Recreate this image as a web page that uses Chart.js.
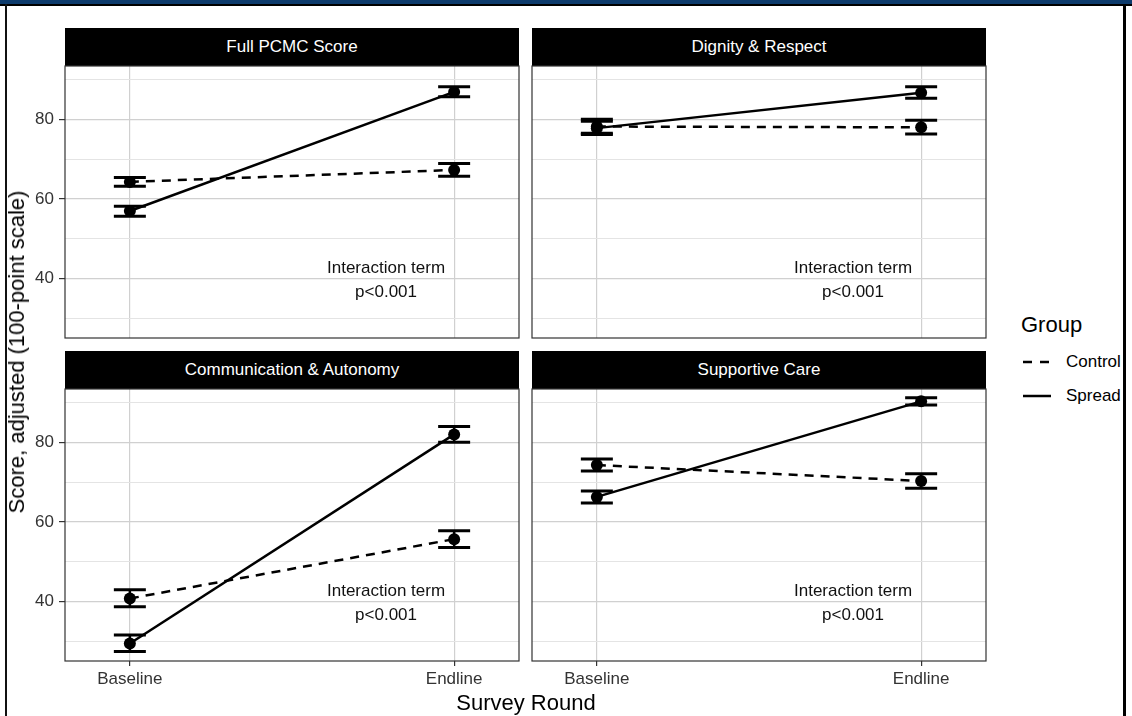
<!DOCTYPE html>
<html>
<head>
<meta charset="utf-8">
<script src="https://cdn.jsdelivr.net/npm/chart.js@4.4.1/dist/chart.umd.min.js"></script>
<style>
  body { margin: 0; background: #fff; font-family: "Liberation Sans", Arial, sans-serif; }
  #page { position: relative; width: 1132px; height: 716px; overflow: hidden; background: #fff; }
  .abs { position: absolute; }
  .strip { position: absolute; background: #000; color: #fff; font-size: 17px; text-align: center; line-height: 38px; height: 38px; }
  canvas { position: absolute; }
</style>
</head>
<body>
<div id="page">
  <div class="abs" style="left:0;top:0;width:1132px;height:4px;background:#0d3b6c"></div>
  <div class="abs" style="left:0;top:4px;width:1132px;height:2px;background:#000"></div>
  <div class="abs" style="left:5px;top:4px;width:2px;height:712px;background:#111"></div>
  <div class="abs" style="left:1123px;top:4px;width:3px;height:712px;background:#000"></div>
</div>
<script>
// === 資料 ===
const panels = ["Full PCMC Score", "Dignity & Respect", "Communication & Autonomy", "Supportive Care"];
const rounds = ["Baseline", "Endline"];
const groups = ["Control", "Spread"];

const controlMean = [[64.3, 67.3], [78.2, 78.0], [40.8, 55.7], [74.3, 70.3]];
const controlLow  = [[63.2, 65.7], [76.5, 76.3], [38.7, 53.6], [72.8, 68.5]];
const controlHigh = [[65.4, 68.9], [80.0, 79.8], [43.0, 57.8], [75.8, 72.1]];

const spreadMean = [[57.0, 86.9], [77.8, 86.7], [29.5, 82.0], [66.3, 90.3]];
const spreadLow  = [[55.7, 85.7], [76.2, 85.3], [27.5, 80.0], [64.8, 89.4]];
const spreadHigh = [[58.2, 88.2], [79.5, 88.2], [31.6, 84.0], [67.8, 91.2]];

const yTicks = [30, 40, 50, 60, 70, 80, 90];
const noteLines = ["Interaction term", "p<0.001"];
const yTitle = "Score, adjusted (100-point scale)";
const xTitle = "Survey Round";
const legendTitle = "Group";

// === 版面 ===
const FONT = '"Liberation Sans", Arial, sans-serif';
const plotLeft = [65, 532, 65, 532];
const plotTop = [66, 66, 389, 389];
const W = 454, H = 272, AXW = 65, PAD = 2;
const yMin = 25.1, yMax = 93.4;
const page = document.getElementById("page");

function pts(vals) {
  return vals.map((v, i) => ({ x: i, y: v }));
}
function errPts(lo, hi) {
  const out = [];
  lo.forEach((l, i) => {
    if (i > 0) out.push({ x: i - 0.5, y: null });
    out.push({ x: i, y: l }, { x: i, y: hi[i] });
  });
  return out;
}
function noPad(s) {
  s.paddingTop = 0;
  s.paddingBottom = 0;
  s.paddingLeft = 0;
  s.paddingRight = 0;
}

const panelDecor = {
  id: "panelDecor",
  beforeDatasetsDraw(chart) {
    const { ctx, scales } = chart;
    const x = scales.x.getPixelForValue(0.79);
    const y = scales.y.getPixelForValue(39.6);
    ctx.save();
    ctx.font = "17px " + FONT;
    ctx.fillStyle = "#111";
    ctx.textAlign = "center";
    ctx.textBaseline = "middle";
    ctx.fillText(noteLines[0], x, y - 11.7);
    ctx.fillText(noteLines[1], x, y + 11.7);
    ctx.restore();
  },
  afterDatasetsDraw(chart) {
    const { ctx, chartArea: a } = chart;
    ctx.save();
    ctx.strokeStyle = "#333";
    ctx.lineWidth = 1.2;
    ctx.strokeRect(a.left, a.top, a.right - a.left, a.bottom - a.top);
    ctx.restore();
  },
};

function makePanel(p) {
  const isLeft = p % 2 === 0;
  const isBottom = p >= 2;

  const strip = document.createElement("div");
  strip.className = "strip";
  strip.style.left = plotLeft[p] + "px";
  strip.style.top = plotTop[p] - 38 + "px";
  strip.style.width = W + "px";
  strip.textContent = panels[p];
  page.appendChild(strip);

  const cv = document.createElement("canvas");
  const cw = AXW + W + PAD;
  const ch = PAD + H + (isBottom ? 40 : PAD);
  cv.width = cw;
  cv.height = ch;
  cv.style.left = plotLeft[p] - AXW + "px";
  cv.style.top = plotTop[p] - PAD + "px";
  cv.style.width = cw + "px";
  cv.style.height = ch + "px";
  page.appendChild(cv);

  const isMajor = (v) => v % 20 === 0;

  new Chart(cv.getContext("2d"), {
    type: "line",
    data: {
      datasets: [
        {
          label: groups[0],
          data: pts(controlMean[p]),
          borderColor: "#000",
          borderWidth: 2.5,
          borderDash: [9, 7],
          pointRadius: 6,
          pointBorderWidth: 0,
          pointBackgroundColor: "#000",
        },
        {
          label: groups[1],
          data: pts(spreadMean[p]),
          borderColor: "#000",
          borderWidth: 2.5,
          pointRadius: 6,
          pointBorderWidth: 0,
          pointBackgroundColor: "#000",
        },
        {
          label: groups[0] + " CI",
          data: errPts(controlLow[p], controlHigh[p]),
          borderColor: "#000",
          borderWidth: 2.5,
          spanGaps: false,
          pointStyle: "line",
          pointRadius: 16,
          pointBorderWidth: 3,
          pointBorderColor: "#000",
        },
        {
          label: groups[1] + " CI",
          data: errPts(spreadLow[p], spreadHigh[p]),
          borderColor: "#000",
          borderWidth: 2.5,
          spanGaps: false,
          pointStyle: "line",
          pointRadius: 16,
          pointBorderWidth: 3,
          pointBorderColor: "#000",
        },
      ],
    },
    options: {
      responsive: false,
      animation: false,
      events: [],
      layout: { autoPadding: false, padding: { top: PAD, right: PAD, left: 0, bottom: 0 } },
      plugins: { legend: { display: false }, tooltip: { enabled: false } },
      scales: {
        x: {
          type: "linear",
          min: -0.2,
          max: 1.2,
          afterBuildTicks: (s) => { s.ticks = rounds.map((r, i) => ({ value: i })); },
          afterFit: (s) => { s.height = isBottom ? 40 : PAD; noPad(s); },
          border: { display: false },
          grid: {
            color: "#d0d0d0",
            lineWidth: 1.2,
            drawTicks: isBottom,
            tickLength: 5,
            tickColor: "#333",
          },
          ticks: {
            display: isBottom,
            maxRotation: 0,
            autoSkip: false,
            padding: 3,
            color: "#333",
            font: { family: FONT, size: 17 },
            callback: (v) => rounds[Math.round(v)],
          },
        },
        y: {
          type: "linear",
          min: yMin,
          max: yMax,
          afterBuildTicks: (s) => { s.ticks = yTicks.map((v) => ({ value: v })); },
          afterFit: (s) => { s.width = AXW; noPad(s); },
          border: { display: false },
          grid: {
            color: (c) => (c.tick && isMajor(c.tick.value) ? "#d0d0d0" : "#e4e4e4"),
            lineWidth: (c) => (c.tick && isMajor(c.tick.value) ? 1.2 : 1),
            drawTicks: isLeft,
            tickLength: 6,
            tickColor: (c) => (c.tick && isMajor(c.tick.value) ? "#333" : "rgba(0,0,0,0)"),
          },
          ticks: {
            display: isLeft,
            autoSkip: false,
            padding: 5,
            color: "#333",
            font: { family: FONT, size: 17 },
            callback: (v) => (isMajor(v) ? String(v) : ""),
          },
        },
      },
    },
    plugins: [panelDecor],
  });
}

panels.forEach((_, p) => makePanel(p));

// === 軸標題 ===
const yt = document.createElement("div");
yt.className = "abs";
yt.textContent = yTitle;
Object.assign(yt.style, {
  left: "17px", top: "352px", fontSize: "22px", color: "#000", whiteSpace: "nowrap",
  transform: "translate(-50%, -50%) rotate(-90deg)",
});
page.appendChild(yt);

const xt = document.createElement("div");
xt.className = "abs";
xt.textContent = xTitle;
Object.assign(xt.style, {
  left: "526px", top: "703px", fontSize: "22px", color: "#000", whiteSpace: "nowrap",
  transform: "translate(-50%, -50%)",
});
page.appendChild(xt);

// === 圖例 ===
const lg = document.createElement("div");
lg.className = "abs";
lg.style.left = "1021px";
lg.style.top = "311px";
lg.innerHTML =
  `<div style="font-size:22px;color:#000;line-height:27px">${legendTitle}</div>` +
  groups.map((g, i) =>
    `<div style="position:absolute;left:0;top:${39 + i * 33.5}px;height:24px;width:120px">` +
    `<svg width="32" height="24" style="position:absolute;left:0;top:0">` +
    `<line x1="2" y1="12" x2="30" y2="12" stroke="#000" stroke-width="2.5"${i === 0 ? ' stroke-dasharray="9 8"' : ""}/></svg>` +
    `<span style="position:absolute;left:45px;top:2px;font-size:17px;color:#000;line-height:20px">${g}</span></div>`
  ).join("");
page.appendChild(lg);
</script>
</body>
</html>
